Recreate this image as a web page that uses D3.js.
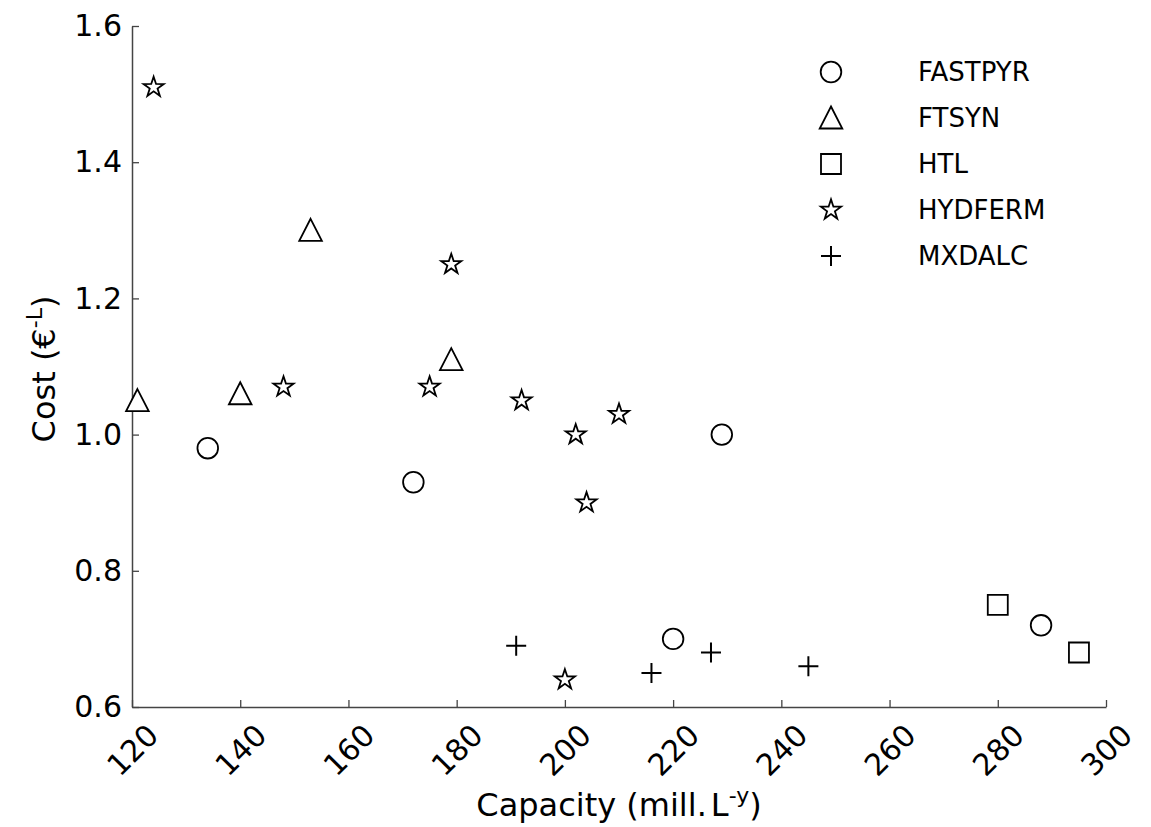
<!DOCTYPE html>
<html><head><meta charset="utf-8">
<script src="https://cdn.jsdelivr.net/npm/d3@7"></script>
<style>body{margin:0;background:#fff}svg{display:block}text{font-family:"DejaVu Sans",sans-serif;fill:#000}</style>
</head><body><svg id="c" width="1151" height="827"></svg>
<script>
const seriesNames = ["FASTPYR","FTSYN","HTL","HYDFERM","MXDALC"];
const fastpyrX = [134,172,229,220,288];
const fastpyrY = [0.98,0.93,1.00,0.70,0.72];
const ftsynX = [121,140,153,179];
const ftsynY = [1.05,1.06,1.30,1.11];
const htlX = [280,295];
const htlY = [0.75,0.68];
const hydfermX = [124,148,175,179,192,202,210,204,200];
const hydfermY = [1.51,1.07,1.07,1.25,1.05,1.00,1.03,0.90,0.64];
const mxdalcX = [191,216,227,245];
const mxdalcY = [0.69,0.65,0.68,0.66];
const xTicks = [120,140,160,180,200,220,240,260,280,300];
const yTicks = [0.6,0.8,1.0,1.2,1.4,1.6];

const svg = d3.select("#c");
const L=132,R=1106,T=26,B=707;
const x = d3.scaleLinear().domain([120,300]).range([L,R]);
const y = d3.scaleLinear().domain([0.6,1.6]).range([B,T]);

const shapes = {
  FASTPYR: d3.symbol().type(d3.symbolCircle).size(Math.PI*10.3*10.3)(),
  FTSYN: "M0,-11.5L11.3,10.5L-11.3,10.5Z",
  HTL: d3.symbol().type(d3.symbolSquare).size(20*20)(),
  HYDFERM: (()=>{const pts=[];for(let i=0;i<10;i++){const r=i%2?4.1:10.6;const a=-Math.PI/2+i*Math.PI/5;pts.push([r*Math.cos(a),r*Math.sin(a)]);}return "M"+pts.map(p=>p.join(",")).join("L")+"Z";})(),
  MXDALC: "M-10,0H10M0,-10V10"
};
const data = [
  ["FASTPYR",fastpyrX,fastpyrY],["FTSYN",ftsynX,ftsynY],["HTL",htlX,htlY],
  ["HYDFERM",hydfermX,hydfermY],["MXDALC",mxdalcX,mxdalcY]
];

// axes
const ax = svg.append("g").attr("transform",`translate(0,${B})`)
  .call(d3.axisBottom(x).tickValues(xTicks).tickSizeInner(-7).tickSizeOuter(0).tickFormat(d3.format("d")));
ax.select(".domain").attr("stroke","#444").attr("stroke-width",1.5);
ax.selectAll(".tick line").attr("stroke","#444").attr("stroke-width",1.3);
ax.selectAll(".tick text").attr("font-size",30).attr("font-family","DejaVu Sans")
  .attr("text-anchor","middle").attr("dy",null).attr("y",null)
  .attr("dominant-baseline","central")
  .attr("transform","translate(0,43) rotate(-45)");

const ay = svg.append("g").attr("transform",`translate(${L},0)`)
  .call(d3.axisLeft(y).tickValues(yTicks).tickSizeInner(-7).tickSizeOuter(0).tickPadding(10).tickFormat(d3.format(".1f")));
ay.select(".domain").attr("stroke","#444").attr("stroke-width",1.5);
ay.selectAll(".tick line").attr("stroke","#444").attr("stroke-width",1.3);
ay.selectAll(".tick text").attr("font-size",30).attr("font-family","DejaVu Sans").attr("x",-10);

// points
data.forEach(([name,xs,ys])=>{
  svg.append("g").selectAll("path").data(xs.map((v,i)=>[v,ys[i]])).join("path")
    .attr("d",shapes[name])
    .attr("transform",d=>`translate(${x(d[0])},${y(d[1])})`)
    .attr("fill",name==="MXDALC"?"none":"#fff").attr("stroke","#000").attr("stroke-width",name==="MXDALC"?2:1.8);
});

// legend
const lg = svg.append("g");
seriesNames.forEach((n,i)=>{
  const yy = 72 + i*46;
  lg.append("path").attr("d",shapes[n]).attr("transform",`translate(831,${yy})`)
    .attr("fill",n==="MXDALC"?"none":"#fff").attr("stroke","#000").attr("stroke-width",n==="MXDALC"?2:1.8);
  lg.append("text").attr("x",918).attr("y",yy).attr("dominant-baseline","central")
    .attr("font-size",26).text(n);
});

// axis labels
const xl = svg.append("text").attr("x",619).attr("y",816).attr("text-anchor","middle").attr("font-size",32);
xl.append("tspan").text("Capacity (mill.");
xl.append("tspan").attr("dx",4).text("L");
xl.append("tspan").attr("font-size",22).attr("dy",-13).text("-y");
xl.append("tspan").attr("dy",13).text(")");

const yl = svg.append("text").attr("transform","translate(55,369) rotate(-90)").attr("text-anchor","middle").attr("font-size",32);
yl.append("tspan").text("Cost (€");
yl.append("tspan").attr("font-size",22).attr("dy",-13).text("-L");
yl.append("tspan").attr("dy",13).text(")");
</script></body></html>
